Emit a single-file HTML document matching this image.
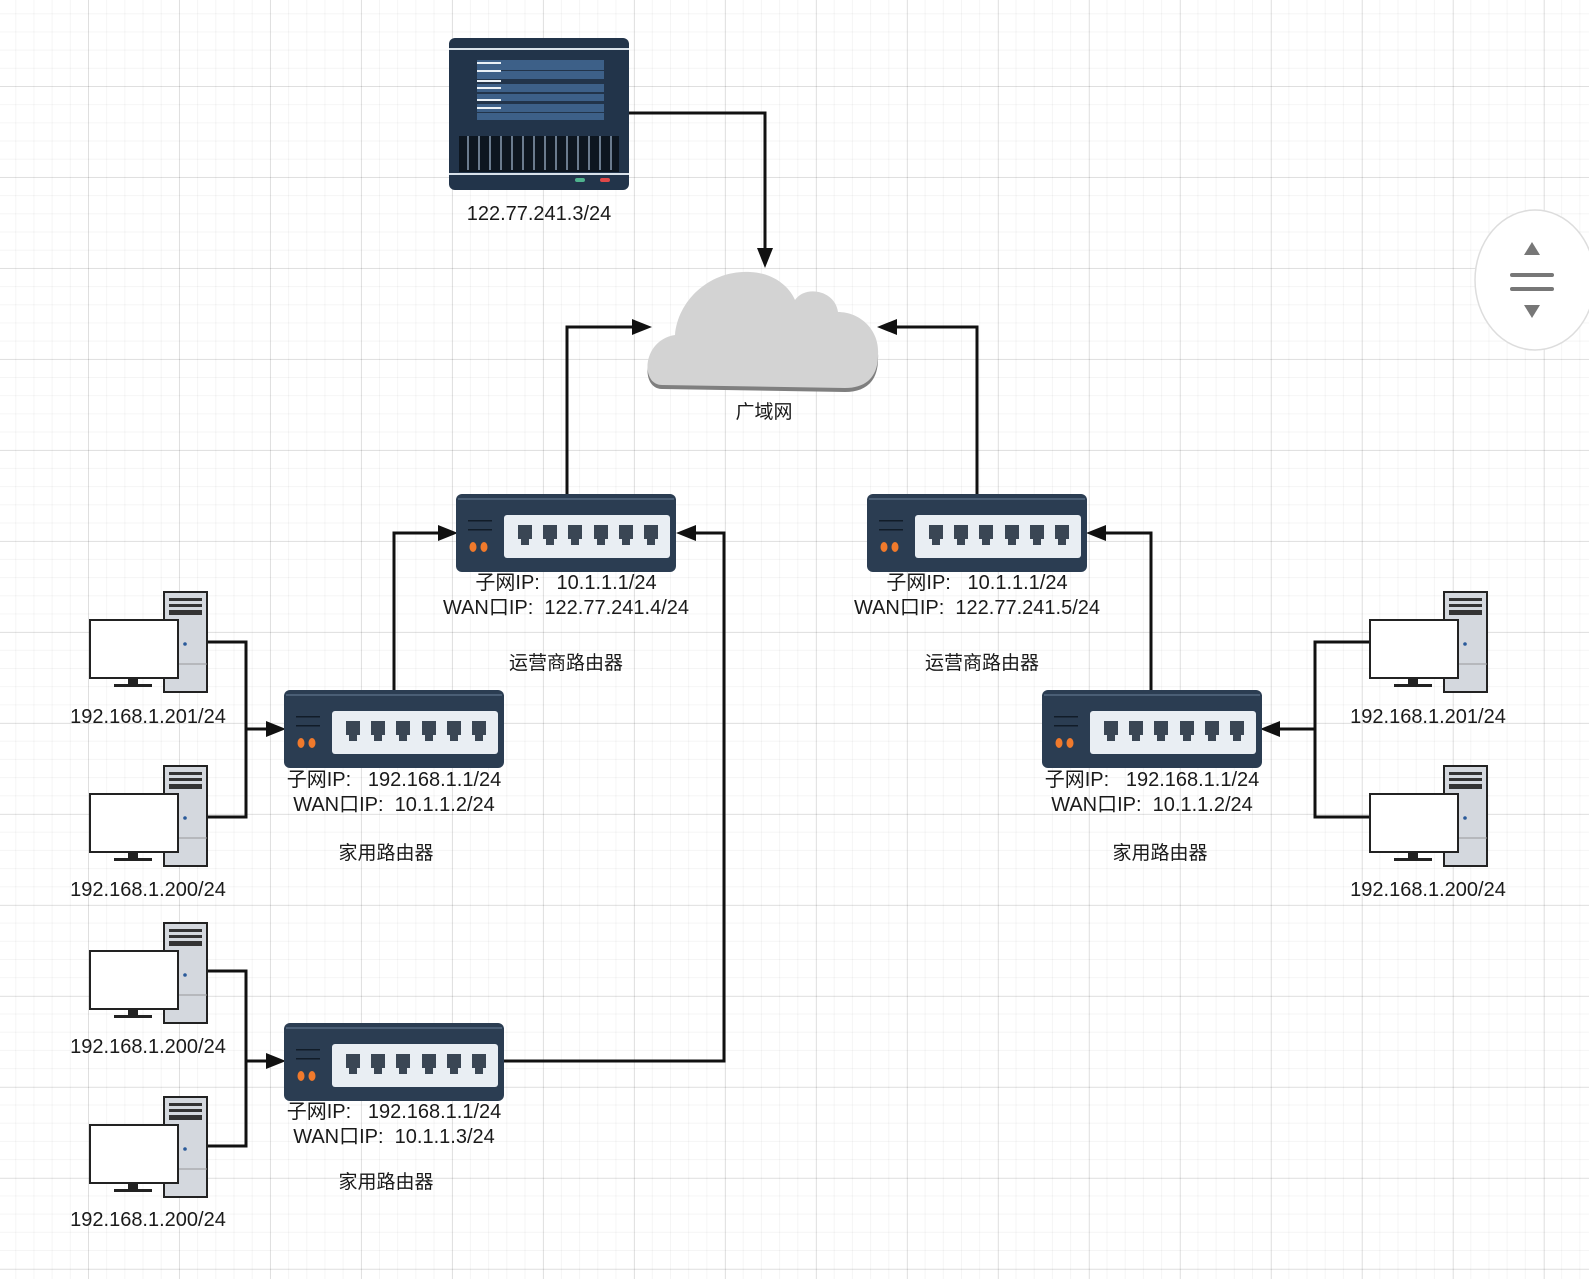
<!DOCTYPE html>
<html><head><meta charset="utf-8"><style>
html,body{margin:0;padding:0;}
body{width:1589px;height:1279px;overflow:hidden;background:#fff;
background-image:
linear-gradient(to right, rgba(0,0,0,0.09) 1px, transparent 1px),
linear-gradient(to bottom, rgba(0,0,0,0.09) 1px, transparent 1px),
linear-gradient(to right, rgba(0,0,0,0.04) 1px, transparent 1px),
linear-gradient(to bottom, rgba(0,0,0,0.04) 1px, transparent 1px);
background-size:91px 91px,91px 91px,18.2px 18.2px,18.2px 18.2px;
background-position:88px 0,0 86px,88px 0,0 86px;}
text{font-family:"Liberation Sans","Noto Sans CJK SC",sans-serif;fill:#1a1a1a;white-space:pre;}
</style></head><body>
<svg width="1589" height="1279" viewBox="0 0 1589 1279" xmlns="http://www.w3.org/2000/svg" style="position:absolute;left:0;top:0" xml:space="preserve">
<defs>
<g id="router">
<rect x="0" y="0" width="220" height="78" rx="6" fill="#2b3d52"/>
<rect x="2" y="4" width="216" height="2" fill="#4a5e75"/>
<rect x="48" y="21" width="166" height="43" rx="3" fill="#e9eef3"/>
<g fill="#3a4654">
<path d="M62 31h14v14h-3v6h-8v-6h-3z"/>
<path d="M87 31h14v14h-3v6h-8v-6h-3z"/>
<path d="M112 31h14v14h-3v6h-8v-6h-3z"/>
<path d="M138 31h14v14h-3v6h-8v-6h-3z"/>
<path d="M163 31h14v14h-3v6h-8v-6h-3z"/>
<path d="M188 31h14v14h-3v6h-8v-6h-3z"/>
</g>
<rect x="12" y="26" width="24" height="1.5" fill="#111c28"/>
<rect x="12" y="35" width="24" height="1.5" fill="#111c28"/>
<ellipse cx="17" cy="53" rx="3.5" ry="5" fill="#f07a2c"/>
<ellipse cx="28" cy="53" rx="3.5" ry="5" fill="#f07a2c"/>
</g>
<g id="pc">
<rect x="74" y="0" width="43" height="100" fill="#d4d8de" stroke="#222" stroke-width="2"/>
<rect x="79" y="6" width="33" height="3" fill="#333"/>
<rect x="79" y="12" width="33" height="3" fill="#333"/>
<rect x="79" y="18" width="33" height="5" fill="#333"/>
<line x1="74" y1="72" x2="117" y2="72" stroke="#999" stroke-width="1"/>
<circle cx="95" cy="52" r="1.8" fill="#2a5a9a"/>
<rect x="0" y="28" width="88" height="58" fill="#fff" stroke="#222" stroke-width="2"/>
<rect x="38" y="86" width="10" height="8" fill="#222"/>
<rect x="24" y="92" width="38" height="3" fill="#222"/>
</g>
</defs>

<g transform="translate(449,38)">
<rect x="0" y="0" width="180" height="152" rx="6" fill="#22344a"/>
<rect x="0" y="10" width="180" height="2" fill="#d9e2ea"/>
<rect x="28" y="22" width="127" height="10" fill="#3d6088"/>
<rect x="28" y="33" width="127" height="8" fill="#3d6088"/>
<rect x="28" y="46" width="127" height="8" fill="#3d6088"/>
<rect x="28" y="56" width="127" height="7" fill="#3d6088"/>
<rect x="28" y="66" width="127" height="8" fill="#3d6088"/>
<rect x="28" y="75" width="127" height="7" fill="#3d6088"/>
<g fill="#e9f0f6"><rect x="28" y="24" width="24" height="2"/><rect x="28" y="32" width="24" height="2"/><rect x="28" y="42" width="24" height="2"/><rect x="28" y="49" width="24" height="2"/><rect x="28" y="61" width="24" height="2"/><rect x="28" y="69" width="24" height="2"/></g>
<rect x="10" y="98" width="160" height="36" fill="#0d1620"/>
<g fill="#6a7b8e">
<rect x="18" y="98" width="2" height="34"/><rect x="29" y="98" width="2" height="34"/><rect x="40" y="98" width="2" height="34"/><rect x="51" y="98" width="2" height="34"/><rect x="62" y="98" width="2" height="34"/><rect x="73" y="98" width="2" height="34"/><rect x="84" y="98" width="2" height="34"/><rect x="95" y="98" width="2" height="34"/><rect x="106" y="98" width="2" height="34"/><rect x="117" y="98" width="2" height="34"/><rect x="128" y="98" width="2" height="34"/><rect x="139" y="98" width="2" height="34"/><rect x="150" y="98" width="2" height="34"/><rect x="161" y="98" width="2" height="34"/>
</g>
<rect x="0" y="135" width="180" height="2" fill="#d9e2ea"/>
<rect x="126" y="140" width="10" height="4" rx="2" fill="#4fb38e"/>
<rect x="151" y="140" width="10" height="4" rx="2" fill="#e04848"/>
</g>
<text x="539" y="220" font-size="20" text-anchor="middle">122.77.241.3/24</text>

<path d="M662 385 C640 385 642 340 675 335 C678 300 710 270 750 272 C775 273 790 288 795 300 C805 285 835 290 838 312 C860 312 880 330 878 355 C878 378 865 388 845 388 Z" fill="#7f7f7f" transform="translate(0,4)"/>
<path d="M662 385 C640 385 642 340 675 335 C678 300 710 270 750 272 C775 273 790 288 795 300 C805 285 835 290 838 312 C860 312 880 330 878 355 C878 378 865 388 845 388 Z" fill="#d3d3d3"/>
<text x="764" y="418" font-size="19" text-anchor="middle">广域网</text>

<g stroke="#111" stroke-width="3" fill="none">
<polyline points="629,113 765,113 765,252"/>
<polyline points="567,494 567,327 636,327"/>
<polyline points="977,494 977,327 893,327"/>
<polyline points="394,690 394,533 442,533"/>
<polyline points="502,1061 724,1061 724,533 690,533"/>
<polyline points="1151,690 1151,533 1100,533"/>
<polyline points="207,642 246,642 246,817 207,817"/>
<line x1="246" y1="729" x2="272" y2="729"/>
<polyline points="207,971 246,971 246,1146 207,1146"/>
<line x1="246" y1="1061" x2="272" y2="1061"/>
<polyline points="1370,642 1315,642 1315,817 1370,817"/>
<line x1="1315" y1="729" x2="1274" y2="729"/>
</g>
<g fill="#111">
<polygon points="765,268 757,248 773,248"/>
<polygon points="652,327 632,319 632,335"/>
<polygon points="877,327 897,319 897,335"/>
<polygon points="458,533 438,525 438,541"/>
<polygon points="676,533 696,525 696,541"/>
<polygon points="1086,533 1106,525 1106,541"/>
<polygon points="286,729 266,721 266,737"/>
<polygon points="286,1061 266,1053 266,1069"/>
<polygon points="1260,729 1280,721 1280,737"/>
</g>

<use href="#router" x="456" y="494"/>
<use href="#router" x="867" y="494"/>
<use href="#router" x="284" y="690"/>
<use href="#router" x="1042" y="690"/>
<use href="#router" x="284" y="1023"/>

<use href="#pc" x="90" y="592"/>
<use href="#pc" x="90" y="766"/>
<use href="#pc" x="90" y="923"/>
<use href="#pc" x="90" y="1097"/>
<use href="#pc" x="1370" y="592"/>
<use href="#pc" x="1370" y="766"/>

<g font-size="20" text-anchor="middle">
<text x="566" y="589">子网IP:   10.1.1.1/24</text>
<text x="566" y="614">WAN口IP:  122.77.241.4/24</text>
<text x="566" y="669" font-size="19">运营商路由器</text>
<text x="977" y="589">子网IP:   10.1.1.1/24</text>
<text x="977" y="614">WAN口IP:  122.77.241.5/24</text>
<text x="982" y="669" font-size="19">运营商路由器</text>
<text x="394" y="786">子网IP:   192.168.1.1/24</text>
<text x="394" y="811">WAN口IP:  10.1.1.2/24</text>
<text x="386" y="859" font-size="19">家用路由器</text>
<text x="1152" y="786">子网IP:   192.168.1.1/24</text>
<text x="1152" y="811">WAN口IP:  10.1.1.2/24</text>
<text x="1160" y="859" font-size="19">家用路由器</text>
<text x="394" y="1118">子网IP:   192.168.1.1/24</text>
<text x="394" y="1143">WAN口IP:  10.1.1.3/24</text>
<text x="386" y="1188" font-size="19">家用路由器</text>
<text x="148" y="723">192.168.1.201/24</text>
<text x="148" y="896">192.168.1.200/24</text>
<text x="148" y="1053">192.168.1.200/24</text>
<text x="148" y="1226">192.168.1.200/24</text>
<text x="1428" y="723">192.168.1.201/24</text>
<text x="1428" y="896">192.168.1.200/24</text>
</g>

<ellipse cx="1535" cy="280" rx="60" ry="70" fill="#fff" stroke="#ddd" stroke-width="1.5"/>
<polygon points="1532,242 1524,255 1540,255" fill="#777"/>
<rect x="1510" y="273" width="44" height="4" rx="2" fill="#777"/>
<rect x="1510" y="287" width="44" height="4" rx="2" fill="#777"/>
<polygon points="1532,318 1524,305 1540,305" fill="#777"/>
</svg>
</body></html>
